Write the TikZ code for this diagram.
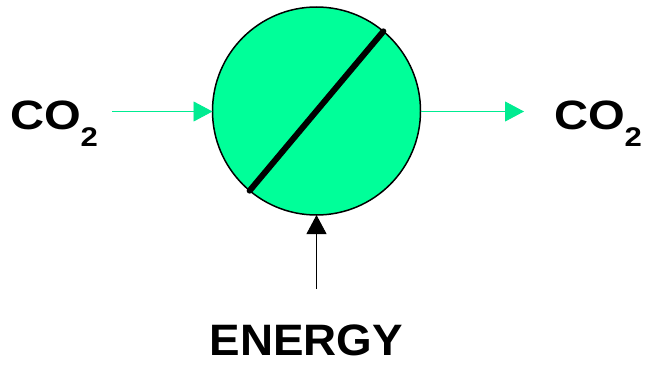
\documentclass[tikz,border=0pt]{standalone}
\usepackage{fontspec}
\setmainfont{Liberation Sans}
\usetikzlibrary{arrows.meta}
\definecolor{cellgreen}{RGB}{0,255,153}
\definecolor{flowgreen}{RGB}{0,235,145}
\tikzset{
  cell/.style={circle, draw=black, line width=1.5pt, fill=cellgreen, minimum size=208pt, inner sep=0pt, outer sep=0pt},
  lbl/.style={inner sep=0pt, outer sep=0pt, anchor=base west, font=\bfseries},
  flow/.style={draw=flowgreen, line width=0.9pt, -{Triangle[length=19pt,width=20pt]}},
  energyflow/.style={draw=black, line width=0.9pt, -{Triangle[length=19pt,width=20pt]}},
  divider/.style={line width=6pt, line cap=round}
}
\newcommand{\cotwo}{\scalebox{1.15}[1]{\fontsize{41}{41}\selectfont CO\raisebox{-16.5pt}{\fontsize{27}{27}\selectfont 2}}}
\begin{document}
\begin{tikzpicture}[x=1pt,y=-1pt]
\useasboundingbox (0,0) rectangle (647,364);
\node[cell] (C) at (316.5,111) {};
\draw[divider] (C.230) -- (C.50);
\node[lbl] (left) at (10,129.5) {\cotwo};
\node[lbl] (right) at (554,129.5) {\cotwo};
\node[lbl] (energy) at (209.5,355.5) {\raisebox{0pt}[\height][0pt]{\scalebox{1.04}[1]{\fontsize{44}{44}\selectfont ENERGY}}};
\coordinate (inL) at (112,111.5);
\coordinate (outR) at (524,111.5);
\coordinate (inE) at (316.5,289);
\draw[flow] (inL) -- (C.west |- inL);
\draw[flow] (C.east |- outR) -- (outR);
\draw[energyflow] (inE) -- (C.south);
\end{tikzpicture}
\end{document}
